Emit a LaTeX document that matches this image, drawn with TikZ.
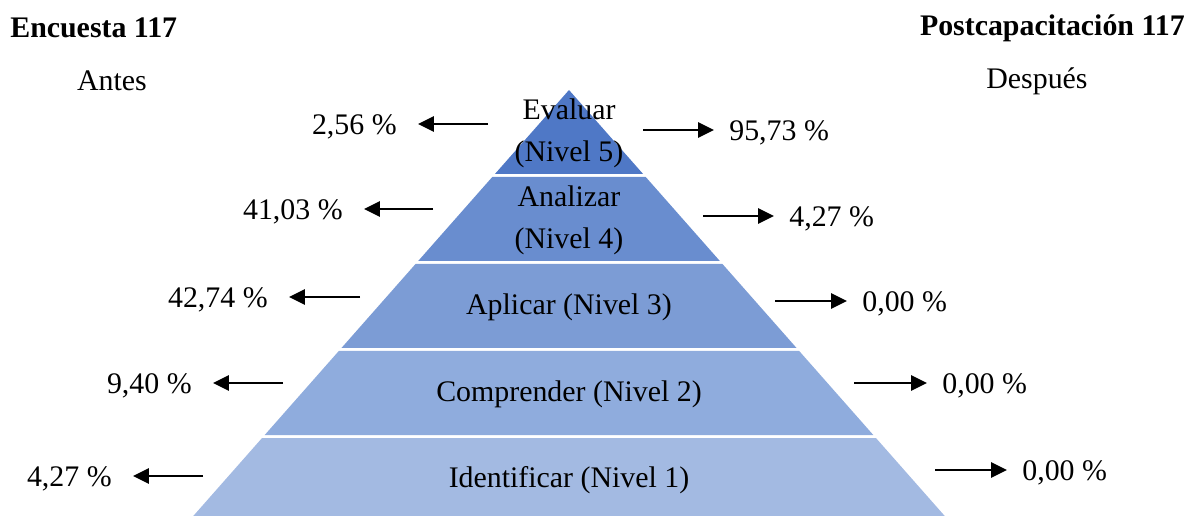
\documentclass[tikz,border=0pt]{standalone}
\usepackage{fontspec}
\setmainfont{Liberation Serif}
\usetikzlibrary{arrows.meta}
\definecolor{lvfive}{HTML}{4F78C6}
\definecolor{lvfour}{HTML}{698DCF}
\definecolor{lvthree}{HTML}{7C9CD5}
\definecolor{lvtwo}{HTML}{8FACDD}
\definecolor{lvone}{HTML}{A3BAE2}
\tikzset{
  lvtext/.style ={font=\fontsize{17}{24}\selectfont,align=center,inner sep=0pt},
  pct/.style    ={font=\fontsize{17}{20}\selectfont,inner sep=0pt},
  head/.style   ={font=\fontsize{17}{20}\selectfont\bfseries,inner sep=0pt},
  sub/.style    ={font=\fontsize{17}{20}\selectfont,inner sep=0pt},
  arr/.style    ={-{Triangle[length=3.2mm,width=3mm]},line width=1.6pt},
}
\begin{document}
\begin{tikzpicture}[x=0.02cm,y=-0.02cm]
    \useasboundingbox (0,0) rectangle (1189,516);
    \clip (0,0) rectangle (1189,516);

    % pyramid levels
    \foreach \yt/\col in {90/lvfive,177/lvfour,264/lvthree,351/lvtwo,438/lvone}{
      \pgfmathsetmacro\yb{\yt+84}
      \pgfmathsetmacro\wt{0.882*(\yt-90)}
      \pgfmathsetmacro\wb{0.882*(\yb-90)}
      \fill[\col] (569-\wt,\yt) -- (569+\wt,\yt) -- (569+\wb,\yb) -- (569-\wb,\yb) -- cycle;
    }
    \node[lvtext] (evaluar)  at (569,133) {Evaluar\\(Nivel 5)};
    \node[lvtext] (analizar) at (569,220) {Analizar\\(Nivel 4)};
    \node[lvtext] (aplicar)  at (569,307) {Aplicar (Nivel 3)};
    \node[lvtext] (comprend) at (569,394) {Comprender (Nivel 2)};
    \node[lvtext] (identif)  at (569,480) {Identificar (Nivel 1)};

    % headers
    \node[head,anchor=west] (enc)  at (10,28)   {Encuesta 117};
    \node[head,anchor=east] (post) at (1185,28) {Postcapacitación 117};
    \node[sub] (antes)   at (112,81)  {Antes};
    \node[sub] (despues) at (1037,81) {Después};

    % before (left)
    \coordinate (a5) at (488,124); \node[pct,anchor=east] (pa5) at (397,127) {2,56 \%};
    \coordinate (a4) at (433,209); \node[pct,anchor=east] (pa4) at (343,212) {41,03 \%};
    \coordinate (a3) at (360,297); \node[pct,anchor=east] (pa3) at (268,300) {42,74 \%};
    \coordinate (a2) at (283,383); \node[pct,anchor=east] (pa2) at (192,386) {9,40 \%};
    \coordinate (a1) at (203,476); \node[pct,anchor=east] (pa1) at (112,479) {4,27 \%};
    % after (right)
    \coordinate (d5) at (643,130); \node[pct,anchor=west] (pd5) at (729,133) {95,73 \%};
    \coordinate (d4) at (703,216); \node[pct,anchor=west] (pd4) at (789,219) {4,27 \%};
    \coordinate (d3) at (775,301); \node[pct,anchor=west] (pd3) at (862,304) {0,00 \%};
    \coordinate (d2) at (854,383); \node[pct,anchor=west] (pd2) at (942,386) {0,00 \%};
    \coordinate (d1) at (935,470); \node[pct,anchor=west] (pd1) at (1022,473) {0,00 \%};

    % arrows
    \foreach \n in {1,...,5} \draw[arr,shorten >=0.42cm] (a\n) -- (a\n -| pa\n.east);
    \foreach \n in {1,...,5} \draw[arr,shorten >=0.3cm]  (d\n) -- (d\n -| pd\n.west);
\end{tikzpicture}
\end{document}
